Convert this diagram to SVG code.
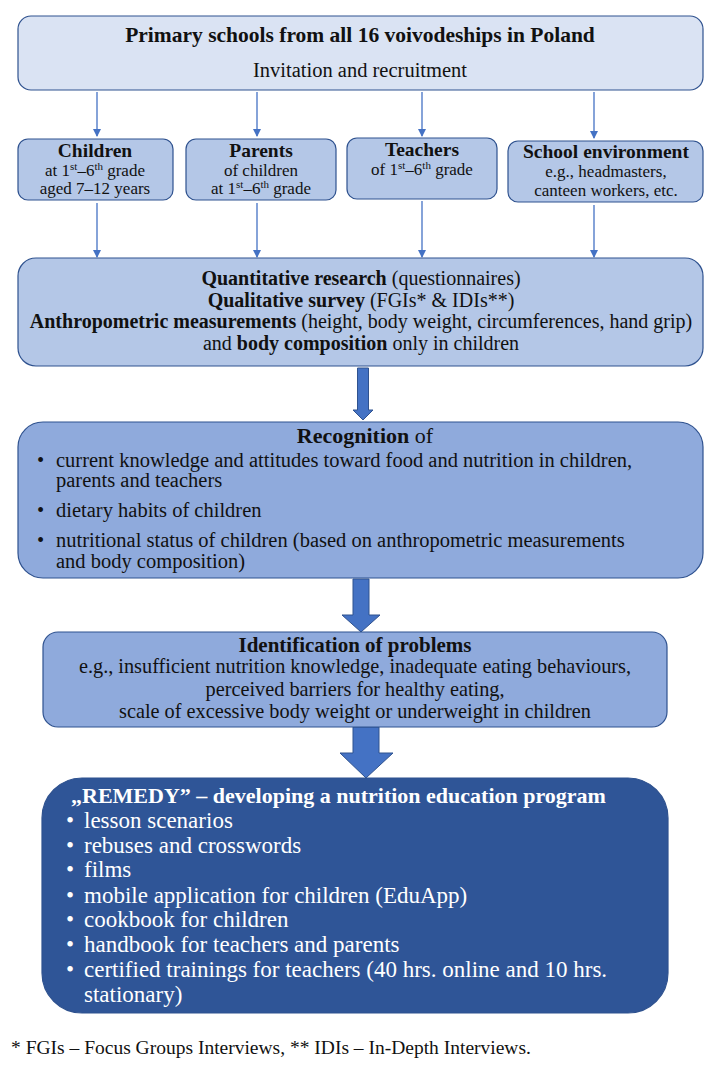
<svg xmlns="http://www.w3.org/2000/svg" width="712" height="1065" viewBox="0 0 712 1065">
<defs>
<style>
text{font-family:"Liberation Serif","Times New Roman",serif;fill:#111;}
.b{font-weight:bold;}
.c{text-anchor:middle;}
.box{stroke:#2f528f;stroke-width:1.2;}
.l0{fill:#dae3f3;}
.l1{fill:#b4c7e7;}
.l2{fill:#8faadc;}
.l3{fill:#2f5597;}
.thin{stroke:#4472c4;stroke-width:1.3;fill:none;}
.thick{fill:#4472c4;stroke:#2f528f;stroke-width:1;}
.w{fill:#fff;}
</style>
<marker id="ah" markerWidth="8" markerHeight="8" refX="7" refY="4" orient="auto" markerUnits="userSpaceOnUse">
<path d="M0,0 L8,4 L0,8 Z" fill="#4472c4"/>
</marker>
</defs>

<g id="connectors">
<line class="thin" x1="97" y1="92" x2="97" y2="136" marker-end="url(#ah)"/>
<line class="thin" x1="257" y1="92" x2="257" y2="136" marker-end="url(#ah)"/>
<line class="thin" x1="422" y1="92" x2="422" y2="136" marker-end="url(#ah)"/>
<line class="thin" x1="594" y1="92" x2="594" y2="138" marker-end="url(#ah)"/>
<line class="thin" x1="97" y1="203" x2="97" y2="257" marker-end="url(#ah)"/>
<line class="thin" x1="257" y1="203" x2="257" y2="257" marker-end="url(#ah)"/>
<line class="thin" x1="422" y1="201" x2="422" y2="257" marker-end="url(#ah)"/>
<line class="thin" x1="594" y1="205" x2="594" y2="257" marker-end="url(#ah)"/>
<polygon class="thick" points="357.5,368 368.5,368 368.5,410 373,410 363,420 353,410 357.5,410"/>
<polygon class="thick" points="353,579 369,579 369,615 380,615 361,632 342,615 353,615"/>
<polygon class="thick" points="353,727 379,727 379,753 393,753 366,778 340,753 353,753"/>
</g>

<g id="top">
<rect class="box l0" x="18" y="16" width="685" height="74" rx="13"/>
<text class="b c" x="360" y="42" font-size="21.5">Primary schools from all 16 voivodeships in Poland</text>
<text class="c" x="360" y="77" font-size="20.5">Invitation and recruitment</text>
</g>

<g id="children">
<rect class="box l1" x="18" y="139" width="155" height="61" rx="10"/>
<text class="b c" x="95" y="157" font-size="19.5">Children</text>
<text class="c" x="95" y="176" font-size="17">at 1<tspan font-size="11" dy="-6">st</tspan><tspan dy="6">–6</tspan><tspan font-size="11" dy="-6">th</tspan><tspan dy="6"> grade</tspan></text>
<text class="c" x="95" y="194" font-size="17">aged 7–12 years</text>
</g>

<g id="parents">
<rect class="box l1" x="186" y="139" width="150" height="61" rx="10"/>
<text class="b c" x="261" y="157" font-size="19.5">Parents</text>
<text class="c" x="261" y="176" font-size="17">of children</text>
<text class="c" x="261" y="194" font-size="17">at 1<tspan font-size="11" dy="-6">st</tspan><tspan dy="6">–6</tspan><tspan font-size="11" dy="-6">th</tspan><tspan dy="6"> grade</tspan></text>
</g>

<g id="teachers">
<rect class="box l1" x="347" y="138" width="150" height="61" rx="10"/>
<text class="b c" x="422" y="156" font-size="19.5">Teachers</text>
<text class="c" x="422" y="175" font-size="17">of 1<tspan font-size="11" dy="-6">st</tspan><tspan dy="6">–6</tspan><tspan font-size="11" dy="-6">th</tspan><tspan dy="6"> grade</tspan></text>
</g>

<g id="school">
<rect class="box l1" x="508" y="141" width="195" height="61" rx="10"/>
<text class="b c" x="606" y="158" font-size="19.5">School environment</text>
<text class="c" x="606" y="177" font-size="17">e.g., headmasters,</text>
<text class="c" x="606" y="196" font-size="17">canteen workers, etc.</text>
</g>

<g id="research">
<rect class="box l1" x="18" y="258" width="685" height="108" rx="18"/>
<text class="c" x="361" y="285" font-size="20"><tspan class="b">Quantitative research</tspan> (questionnaires)</text>
<text class="c" x="361" y="307" font-size="20"><tspan class="b">Qualitative survey</tspan> (FGIs* &amp; IDIs**)</text>
<text class="c" x="361" y="328" font-size="20"><tspan class="b">Anthropometric measurements</tspan> (height, body weight, circumferences, hand grip)</text>
<text class="c" x="361" y="350" font-size="20">and <tspan class="b">body composition</tspan> only in children</text>
</g>

<g id="recognition">
<rect class="box l2" x="18" y="422" width="685" height="156" rx="25"/>
<text class="c" x="365" y="443" font-size="22"><tspan class="b">Recognition</tspan> of</text>
<g font-size="20.5">
<text x="37" y="467">•</text>
<text x="56" y="467">current knowledge and attitudes toward food and nutrition in children,</text>
<text x="56" y="487">parents and teachers</text>
<text x="37" y="517">•</text>
<text x="56" y="517">dietary habits of children</text>
<text x="37" y="547">•</text>
<text x="56" y="547">nutritional status of children (based on anthropometric measurements</text>
<text x="56" y="568">and body composition)</text>
</g>
</g>

<g id="identification">
<rect class="box l2" x="43" y="632" width="624" height="95" rx="15"/>
<text class="b c" x="355" y="651.5" font-size="21">Identification of problems</text>
<text class="c" x="355" y="673" font-size="20.3">e.g., insufficient nutrition knowledge, inadequate eating behaviours,</text>
<text class="c" x="355" y="695.5" font-size="20.3">perceived barriers for healthy eating,</text>
<text class="c" x="355" y="718" font-size="20.3">scale of excessive body weight or underweight in children</text>
</g>

<g id="remedy">
<rect class="box l3" x="42" y="778" width="626" height="235" rx="40"/>
<text class="b w" x="71" y="803" font-size="22">„REMEDY” – developing a nutrition education program</text>
<g font-size="23">
<text class="w" x="66" y="828">•</text><text class="w" x="84" y="828">lesson scenarios</text>
<text class="w" x="66" y="853">•</text><text class="w" x="84" y="853">rebuses and crosswords</text>
<text class="w" x="66" y="877">•</text><text class="w" x="84" y="877">films</text>
<text class="w" x="66" y="903">•</text><text class="w" x="84" y="903">mobile application for children (EduApp)</text>
<text class="w" x="66" y="927">•</text><text class="w" x="84" y="927">cookbook for children</text>
<text class="w" x="66" y="952">•</text><text class="w" x="84" y="952">handbook for teachers and parents</text>
<text class="w" x="66" y="977">•</text><text class="w" x="84" y="977">certified trainings for teachers (40 hrs. online and 10 hrs.</text>
<text class="w" x="84" y="1002">stationary)</text>
</g>
</g>

<g id="footnote">
<text x="11" y="1054" font-size="19.5">* FGIs – Focus Groups Interviews, ** IDIs – In-Depth Interviews.</text>
</g>
</svg>
